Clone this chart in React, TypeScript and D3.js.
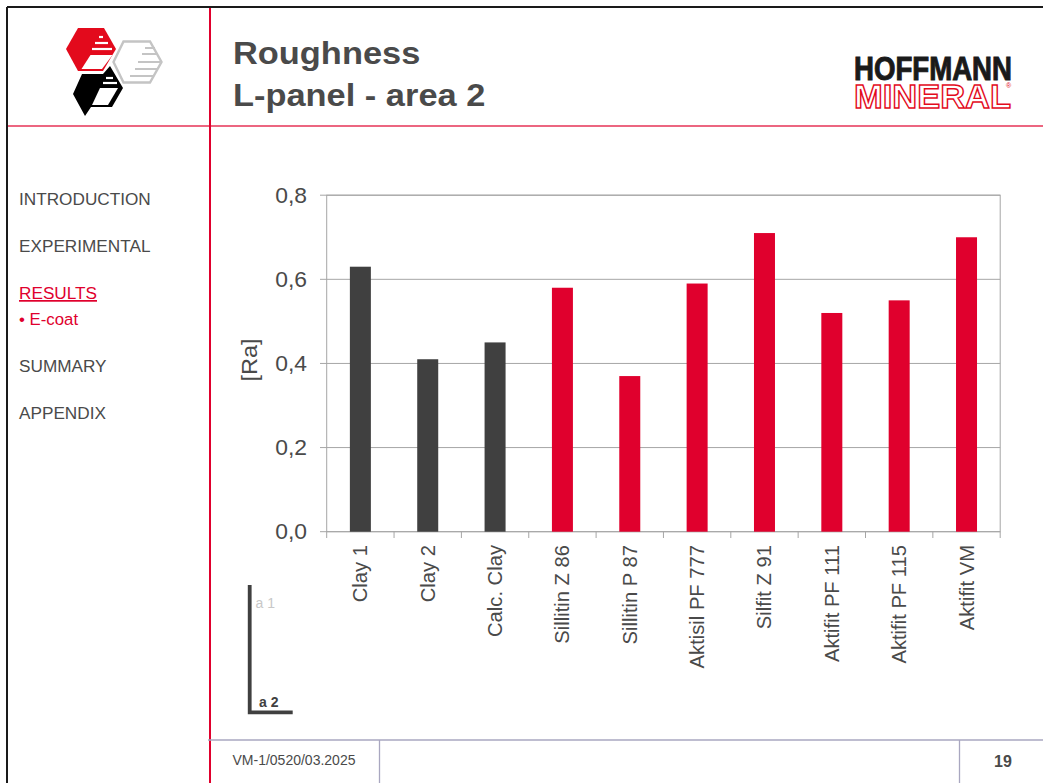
import React from "react";
import * as d3 from "d3";

const categories = ["Clay 1","Clay 2","Calc. Clay","Sillitin Z 86","Sillitin P 87","Aktisil PF 777","Silfit Z 91","Aktifit PF 111","Aktifit PF 115","Aktifit VM"];
const values = [0.63,0.41,0.45,0.58,0.37,0.59,0.71,0.52,0.55,0.70];
const darkCategories = ["Clay 1","Clay 2","Calc. Clay"];
const yTicks = [0,0.2,0.4,0.6,0.8];
const menu = ["INTRODUCTION","EXPERIMENTAL","RESULTS","SUMMARY","APPENDIX"];
const menuY = [205,252,299,372,419];

const RED = "#e0002d";
const LOGORED = "#e30a1c";
const DARK = "#404040";
const TXT = "#4a4a4a";
const LINE = "#a9a7c0";
const GRID = "#a6a6a6";
const FONT = "'Liberation Sans', Arial, sans-serif";

const greyBands = [[145,155,48],[142,158,54],[138,160,62],[135,157,69],[130,153,76]];
const redBands = [[99,103,37],[95,108,43],[92,112,49]];
const blackBands = [[106,113,78],[103,117,83]];

function Logo() {
  return (
    <g>
      <polygon points="113.5,62 123.5,41.5 150,41.5 161.5,62 150,82.5 123.5,82.5" fill="white" stroke="#c4c4c4" strokeWidth={2.4}/>
      {greyBands.map((b, i) => <line key={i} x1={b[0]} x2={b[1]} y1={b[2]} y2={b[2]} stroke="#c4c4c4" strokeWidth={2}/>)}
      <polygon points="66,49 78,28 104,28 116,49 103,71 78,71" fill={LOGORED}/>
      <polygon points="90.5,55 112.5,55 102,69 81.5,69" fill="white"/>
      {redBands.map((b, i) => <line key={i} x1={b[0]} x2={b[1]} y1={b[2]} y2={b[2]} stroke="white" strokeWidth={2.2}/>)}
      <polygon points="110,66 123,88 112,107 91,107 85,116 73,94 82,74 103,74" fill="black"/>
      <polygon points="100,88 118,88 108,105 92,105" fill="white"/>
      {blackBands.map((b, i) => <line key={i} x1={b[0]} x2={b[1]} y1={b[2]} y2={b[2]} stroke="white" strokeWidth={2.2}/>)}
    </g>
  );
}

export default function App() {
  const x = d3.scaleBand<string>().domain(categories).range([326.7, 1000.2]);
  const y = d3.scaleLinear().domain([0, 0.8]).range([531.7, 195.2]);
  const barW = 21;
  const fmt = (v: number) => d3.format(".1f")(v).replace(".", ",");
  return (
    <svg width={1043} height={783} style={{ position: "fixed", left: 0, top: 0, background: "white" }} fontFamily={FONT}>
      <line x1={7} y1={7} x2={1043} y2={7} stroke="#1a1a1a" strokeWidth={2}/>
      <line x1={7} y1={7} x2={7} y2={783} stroke="#1a1a1a" strokeWidth={2}/>
      <line x1={8} y1={126} x2={1043} y2={126} stroke={RED} strokeWidth={1.3} opacity={0.8}/>
      <line x1={210} y1={8} x2={210} y2={783} stroke={RED} strokeWidth={2}/>
      <Logo/>
      <text transform="translate(233,64) scale(1.075,1)" fontSize={32} fontWeight={700} fill={TXT}>Roughness</text>
      <text transform="translate(233,106) scale(1.075,1)" fontSize={32} fontWeight={700} fill={TXT}>L-panel - area 2</text>
      <text x={854} y={80} fontSize={33} fontWeight={700} fill="#1a1a1a" stroke="#1a1a1a" strokeWidth={1} textLength={158} lengthAdjust="spacingAndGlyphs">HOFFMANN</text>
      <text x={854} y={107.5} fontSize={34} fontWeight={700} fill="white" stroke={LOGORED} strokeWidth={1.4} textLength={157} lengthAdjust="spacingAndGlyphs">MINERAL</text>
      <text x={1006} y={88} fontSize={7} fill={LOGORED}>®</text>
      {menu.map((m, i) => (
        <text key={m} x={19} y={menuY[i]} fontSize={17.2} fill={m === "RESULTS" ? RED : TXT} textDecoration={m === "RESULTS" ? "underline" : undefined}>{m}</text>
      ))}
      <text x={19} y={325} fontSize={16.8} fill={RED}>• E-coat</text>
      <rect x={326.7} y={195.2} width={673.5} height={336.5} fill="none" stroke={GRID} strokeWidth={1}/>
      {yTicks.map(t => (
        <g key={t}>
          <line x1={320} x2={1000.2} y1={y(t)} y2={y(t)} stroke={GRID} strokeWidth={1}/>
          <text transform={`translate(307,${y(t)}) scale(1.04,1)`} dy="0.35em" textAnchor="end" fontSize={22} fill={TXT}>{fmt(t)}</text>
        </g>
      ))}
      {values.map((v, i) => (
        <rect key={categories[i]} x={x(categories[i])! + x.bandwidth()/2 - barW/2} y={y(v)} width={barW} height={y(0) - y(v)}
          fill={darkCategories.includes(categories[i]) ? DARK : RED}/>
      ))}
      {d3.range(categories.length + 1).map(i => {
        const px = 326.7 + i * x.step();
        return <line key={i} x1={px} x2={px} y1={531.7} y2={538} stroke={GRID} strokeWidth={1}/>;
      })}
      {categories.map(c => {
        const cx = x(c)! + x.bandwidth()/2 + 7;
        return <text key={c} transform={`translate(${cx},545) rotate(-90)`} textAnchor="end" fontSize={20.2} fill={TXT}>{c}</text>;
      })}
      <text transform="translate(257,360) rotate(-90) scale(1.07,1)" textAnchor="middle" fontSize={22} fill={TXT}>[Ra]</text>
      <path d="M249.7,585 V712.3 H292.7" fill="none" stroke={DARK} strokeWidth={3.8}/>
      <text x={255.5} y={607.7} fontSize={14} fill="#c8c8c8">a 1</text>
      <text x={259} y={707.3} fontSize={14} fontWeight={700} fill={DARK}>a 2</text>
      <line x1={208} y1={740} x2={1043} y2={740} stroke={LINE} strokeWidth={1.3}/>
      <line x1={379.5} y1={740} x2={379.5} y2={783} stroke={LINE} strokeWidth={1.3}/>
      <line x1={959.5} y1={740} x2={959.5} y2={783} stroke={LINE} strokeWidth={1.3}/>
      <text x={232.5} y={765} fontSize={14} fill={TXT}>VM-1/0520/03.2025</text>
      <text x={1003} y={767} textAnchor="middle" fontSize={16} fontWeight={700} fill={TXT}>19</text>
    </svg>
  );
}
